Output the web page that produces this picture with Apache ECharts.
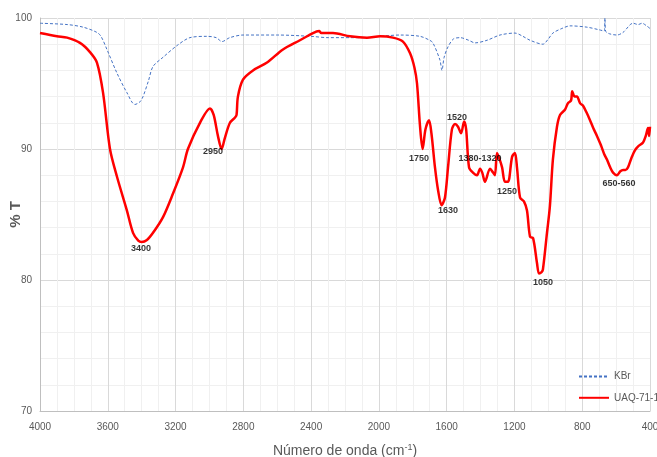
<!DOCTYPE html>
<html><head><meta charset="utf-8">
<script src="https://cdn.jsdelivr.net/npm/echarts@6/dist/echarts.min.js"></script>
<style>html,body{margin:0;padding:0;background:#fff}#c{width:657px;height:457px}</style>
</head><body><div id="c"></div>
<script>
// UAQ-71-1 spectrum
const redX = [4000,3900,3840,3764,3705,3664,3628,3587,3546,3487,3451,3420,3400,3369,3333,3274,3215,3156,3127,3056,2997,2975,2950,2928,2910,2879,2849,2840,2832,2802,2743,2660,2566,2466,2389,2353,2340,2271,2170,2070,1993,1917,1858,1816,1790,1775,1757,1742,1725,1704,1690,1669,1650,1630,1610,1592,1569,1551,1533,1515,1497,1485,1468,1445,1421,1403,1390,1374,1344,1326,1315,1303,1290,1273,1256,1238,1214,1197,1185,1167,1144,1126,1108,1090,1067,1055,1040,1032,1008,991,973,949,931,902,884,866,859,845,831,813,795,775,754,735,713,690,670,654,635,618,595,575,559,545,530,510,489,470,441,425,412,405,400];
const redY = [98.85,98.6,98.5,98.1,97.4,96.6,94.3,90.0,87.9,85.3,83.6,83.0,82.9,83.05,83.6,84.8,86.6,88.6,90.0,92.0,93.1,92.6,91.0,90.0,90.8,92.0,92.4,92.6,94.0,95.3,96.0,96.6,97.6,98.3,98.85,99.0,98.85,98.85,98.6,98.5,98.6,98.5,98.2,97.3,96.2,95.0,91.7,90.0,91.5,92.2,91.2,88.6,86.8,85.7,86.3,88.6,91.5,91.9,91.7,91.2,92.1,91.5,88.6,88.2,88.0,88.5,88.2,87.5,88.5,88.2,88.0,89.7,89.3,88.6,87.5,87.5,89.4,89.7,88.6,86.3,86.0,85.3,83.3,83.2,81.3,80.5,80.6,80.8,83.6,85.6,89.2,91.7,92.6,93.0,93.5,93.7,94.4,94.0,94.0,93.5,93.3,92.8,92.2,91.6,91.0,90.3,89.6,89.2,88.6,88.2,88.0,88.3,88.4,88.4,88.6,89.3,89.9,90.2,90.5,91.0,91.6,91.0,91.7];
// KBr spectrum
const kbrX = [4000,3840,3745,3664,3640,3605,3546,3487,3440,3410,3392,3360,3333,3274,3191,3115,3015,2960,2926,2880,2802,2600,2400,2300,2100,1875,1757,1700,1681,1640,1628,1615,1592,1560,1521,1470,1433,1362,1285,1197,1150,1108,1032,1000,973,920,872,772,700,670,666,662,640,595,559,500,470,447,420,400];
const kbrY = [99.6,99.5,99.3,98.9,98.6,97.6,95.8,94.3,93.4,93.6,94.0,95.2,96.3,97.0,97.9,98.5,98.6,98.5,98.2,98.5,98.7,98.7,98.6,98.5,98.5,98.7,98.6,98.3,98.1,96.8,96.0,97.0,97.8,98.4,98.5,98.3,98.1,98.3,98.7,98.85,98.6,98.3,98.0,98.4,98.85,99.2,99.4,99.3,99.1,99.0,100.0,99.0,98.8,98.7,98.9,99.6,99.5,99.6,99.4,99.2];
// peak annotations
const peakText = ['3400','2950','1750','1630','1520','1380-1320','1250','1050','650-560'];
const peakX = [3404,2979,1763,1592,1539,1403,1244,1031,583];
const peakY = [82.37,89.77,89.24,85.27,92.44,89.31,86.79,79.77,87.33];
const seriesNames = ['KBr','UAQ-71-1'];

const zip = (xs, ys) => xs.map((x, i) => [x, ys[i]]);
const FF = 'Liberation Sans, Arial, sans-serif';
const chart = echarts.init(document.getElementById('c'), null, {renderer: 'canvas'});
chart.setOption({
  animation: false,
  backgroundColor: '#ffffff',
  grid: {left: 40, right: 7, top: 18, bottom: 46, containLabel: false, outerBoundsMode: 'none'},
  legend: {
    data: seriesNames,
    orient: 'vertical',
    left: 573, top: 366,
    itemWidth: 30, itemHeight: 14, itemGap: 10,
    itemStyle: {opacity: 0},
    textStyle: {fontSize: 10, color: '#595959', fontFamily: FF}
  },
  xAxis: {
    type: 'value', inverse: true, min: 400, max: 4000, interval: 400,
    name: '{a|Número de onda (cm}{s|-1}{a|)}',
    nameLocation: 'middle', nameGap: 32, nameMoveOverlap: false,
    nameTextStyle: {
      rich: {
        a: {fontSize: 14, color: '#595959', fontFamily: FF},
        s: {fontSize: 9, color: '#595959', verticalAlign: 'top', padding: [0,0,8,0], fontFamily: FF}
      }
    },
    axisLine: {show: true, lineStyle: {color: '#bfbfbf', width: 1}},
    axisTick: {show: false},
    axisLabel: {fontSize: 10, color: '#595959', margin: 11, fontFamily: FF, formatter: v => String(v)},
    splitLine: {show: true, lineStyle: {color: '#d9d9d9', width: 1}},
    minorTick: {show: false, splitNumber: 4},
    minorSplitLine: {show: true, lineStyle: {color: '#f0f0f0', width: 1}}
  },
  yAxis: {
    type: 'value', min: 70, max: 100, interval: 10,
    name: '% T', nameLocation: 'middle', nameGap: 17, nameRotate: 90, nameMoveOverlap: false,
    nameTextStyle: {fontSize: 15, fontWeight: 'bold', color: '#595959', fontFamily: FF},
    axisLine: {show: true, lineStyle: {color: '#bfbfbf', width: 1}},
    axisTick: {show: false},
    axisLabel: {fontSize: 10, color: '#595959', margin: 8, fontFamily: FF, formatter: v => String(v)},
    splitLine: {show: true, lineStyle: {color: '#d9d9d9', width: 1}},
    minorTick: {show: false, splitNumber: 5},
    minorSplitLine: {show: true, lineStyle: {color: '#f0f0f0', width: 1}}
  },
  series: [
    {
      name: seriesNames[0], type: 'line', data: zip(kbrX, kbrY), showSymbol: false, symbol: 'none',
      smooth: 0.3,
      lineStyle: {color: '#4472c4', width: 1, type: [3, 2]}, itemStyle: {color: '#4472c4'}, z: 2
    },
    {
      name: seriesNames[1], type: 'line', data: zip(redX, redY), showSymbol: false, symbol: 'none',
      smooth: 0.3,
      lineStyle: {color: '#ff0000', width: 2.5}, itemStyle: {color: '#ff0000'}, z: 3
    },
    {
      name: 'labels', type: 'scatter', symbolSize: 0, silent: true, z: 5,
      data: peakText.map((t, i) => ({name: t, value: [peakX[i], peakY[i]]})),
      label: {show: true, position: 'inside', formatter: p => p.name, fontSize: 9, fontWeight: 'bold', color: '#000', fontFamily: FF}
    }
  ]
});
</script></body></html>
